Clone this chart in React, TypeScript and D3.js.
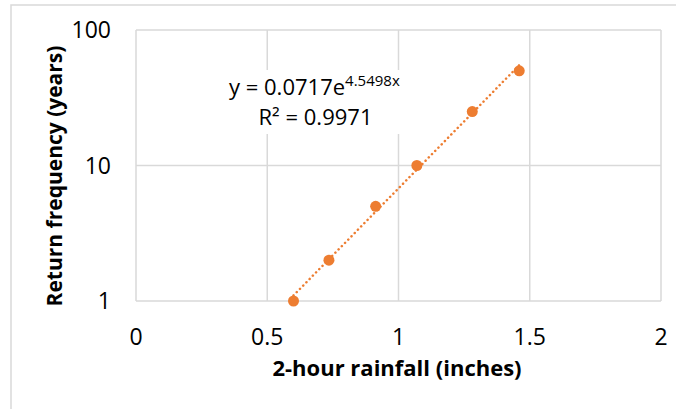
import * as d3 from 'd3';

// measured values
const rainfall = [0.6, 0.735, 0.913, 1.07, 1.281, 1.46];
const returnYears = [1, 2, 5, 10, 25, 50];
const xTicks = [0, 0.5, 1, 1.5, 2];
const yTicks = [1, 10, 100];

// trendline shown in the chart: y = a * e^(b x)
const fitA = 0.0717;
const fitB = 4.5498;
const rSquared = 0.9971;

const W = 676;
const H = 409;
const margin = { top: 30, right: 15, bottom: 108, left: 136 };
const orange = '#ED7D31';
const grid = '#d9d9d9';
const font = '"Open Sans", "Noto Sans", sans-serif';

export default function App() {
  const x = d3.scaleLinear().domain([0, 2]).range([margin.left, W - margin.right]);
  const y = d3.scaleLog().domain([1, 100]).range([H - margin.bottom, margin.top]);

  const xMin = d3.min(rainfall) as number;
  const xMax = d3.max(rainfall) as number;
  const trend = [xMin, xMax].map((v) => ({ x: v, y: fitA * Math.exp(fitB * v) }));
  const trendLine = d3
    .line<{ x: number; y: number }>()
    .x((d) => x(d.x))
    .y((d) => y(d.y));

  const points = rainfall.map((r, i) => ({ x: r, y: returnYears[i] }));
  const [y0, y1] = y.range();

  return (
    <svg
      width={W}
      height={H}
      style={{ position: 'absolute', left: 0, top: 0, background: '#fff' }}
      fontFamily={font}
    >
      <rect x={11} y={5} width={W} height={H} fill="#fff" stroke={grid} strokeWidth={1.5} />

      {/* gridlines */}
      {xTicks.map((t) => (
        <line key={'gx' + t} x1={x(t)} x2={x(t)} y1={y1} y2={y0} stroke={grid} strokeWidth={1.5} />
      ))}
      {yTicks.map((t) => (
        <line key={'gy' + t} x1={x(0)} x2={x(2)} y1={y(t)} y2={y(t)} stroke={grid} strokeWidth={1.5} />
      ))}

      {/* tick labels */}
      {xTicks.map((t) => (
        <text key={'tx' + t} x={x(t)} y={y0 + 44} textAnchor="middle" fontSize={23} fill="#000">
          {t}
        </text>
      ))}
      {yTicks.map((t) => (
        <text key={'ty' + t} x={x(0) - 25} y={y(t) + 8} textAnchor="end" fontSize={23} fill="#000">
          {t}
        </text>
      ))}

      {/* equation label (white box behind like Excel) */}
      <rect x={222} y={70} width={192} height={64} fill="#fff" />
      <text x={229} y={95} fontSize={22} fill="#000">
        y = {fitA}e
        <tspan fontSize={15} dy={-9}>
          {fitB}x
        </tspan>
      </text>
      <text x={315.5} y={125} textAnchor="middle" fontSize={22} fill="#000">
        R² = {rSquared}
      </text>

      {/* trendline */}
      <path
        d={trendLine(trend) || ''}
        fill="none"
        stroke={orange}
        strokeWidth={2.5}
        strokeDasharray="0.1,4.5"
        strokeLinecap="round"
      />

      {/* points */}
      {points.map((p, i) => (
        <circle key={i} cx={x(p.x)} cy={y(p.y)} r={5.5} fill={orange} />
      ))}

      {/* axis titles */}
      <text x={397} y={376} textAnchor="middle" fontSize={22} fontWeight="bold" fill="#000">
        2-hour rainfall (inches)
      </text>
      <text
        transform={`translate(62,176) rotate(-90)`}
        textAnchor="middle"
        fontSize={21}
        fontWeight="bold"
        fill="#000"
      >
        Return frequency (years)
      </text>
    </svg>
  );
}
